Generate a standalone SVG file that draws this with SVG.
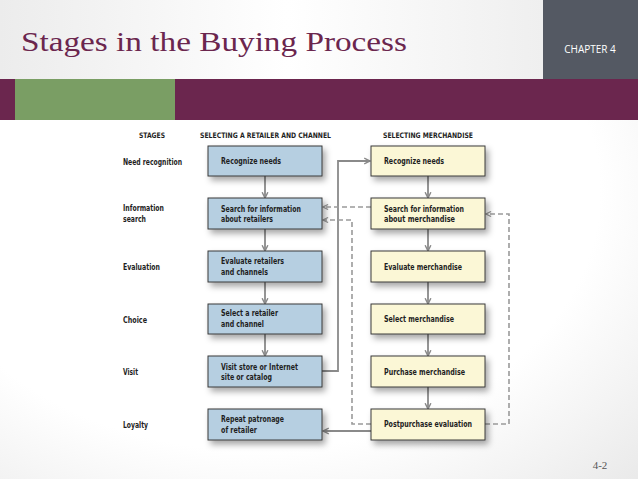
<svg xmlns="http://www.w3.org/2000/svg" width="638" height="479" viewBox="0 0 638 479">
<defs>
<linearGradient id="hdr" x1="0" y1="0" x2="1" y2="0">
<stop offset="0" stop-color="#ececec"/>
<stop offset="0.45" stop-color="#ffffff"/>
<stop offset="1" stop-color="#e9e9e9"/>
</linearGradient>
<radialGradient id="bg" cx="0.4" cy="0.4" r="0.9">
<stop offset="0.6" stop-color="#ffffff"/>
<stop offset="1" stop-color="#e6e6e6"/>
</radialGradient>
<filter id="sh" x="-20%" y="-30%" width="150%" height="180%">
<feDropShadow dx="3" dy="4" stdDeviation="3" flood-color="#000" flood-opacity="0.35"/>
</filter>
<marker id="ah" viewBox="0 0 10 10" refX="9" refY="5" markerWidth="4" markerHeight="4" orient="auto" markerUnits="strokeWidth">
<path d="M1,1 L9,5 L1,9" fill="none" stroke="#8a8a8a" stroke-width="2"/>
</marker>
<marker id="ahd" viewBox="0 0 10 10" refX="9" refY="5" markerWidth="4" markerHeight="4" orient="auto" markerUnits="strokeWidth">
<path d="M1,1 L9,5 L1,9" fill="none" stroke="#9a9a9a" stroke-width="2"/>
</marker>
</defs>
<style>
.bl{fill:#b6cfe1;stroke:#3a3a3a;stroke-width:1;filter:url(#sh)}
.yl{fill:#fbf7d6;stroke:#3a3a3a;stroke-width:1;filter:url(#sh)}
.t{font-family:"DejaVu Sans Condensed","DejaVu Sans",sans-serif;font-weight:bold;font-size:8.5px;fill:#1e1e1e}
.h{font-family:"DejaVu Sans Condensed","DejaVu Sans",sans-serif;font-weight:bold;font-size:7.5px;fill:#1e1e1e}
.ar{fill:none;stroke:#8a8a8a;stroke-width:1.8;marker-end:url(#ah)}
.da{fill:none;stroke:#9a9a9a;stroke-width:1.6;stroke-dasharray:5,3;marker-end:url(#ahd)}
</style>
<rect x="0" y="0" width="638" height="479" fill="url(#bg)"/>
<rect x="0" y="0" width="638" height="79" fill="url(#hdr)"/>
<rect x="543" y="0" width="95" height="79" fill="#545963"/>
<rect x="0" y="79" width="638" height="41" fill="#6b264e"/>
<rect x="15" y="79" width="160" height="41" fill="#7a9e64"/>
<text x="21" y="51" font-family="Liberation Serif, serif" font-size="28" fill="#6b264e" textLength="386" lengthAdjust="spacingAndGlyphs">Stages in the Buying Process</text>
<text x="590" y="53" text-anchor="middle" font-family="Open Sans, Liberation Sans, sans-serif" font-size="10" fill="#ffffff">CHAPTER 4</text>
<text x="600" y="469" text-anchor="middle" font-family="Liberation Serif, serif" font-size="11" fill="#555">4-2</text>

<g id="headers">
<text class="h" x="139" y="138" textLength="26" lengthAdjust="spacingAndGlyphs">STAGES</text>
<text class="h" x="200" y="138" textLength="131" lengthAdjust="spacingAndGlyphs">SELECTING A RETAILER AND CHANNEL</text>
<text class="h" x="383" y="138" textLength="90" lengthAdjust="spacingAndGlyphs">SELECTING MERCHANDISE</text>
</g>
<g id="stages">
<text class="t" x="123" y="165" textLength="59" lengthAdjust="spacingAndGlyphs">Need recognition</text>
<text class="t" x="123" y="211" textLength="41" lengthAdjust="spacingAndGlyphs">Information</text>
<text class="t" x="123" y="221.5" textLength="23" lengthAdjust="spacingAndGlyphs">search</text>
<text class="t" x="123" y="269.5" textLength="37" lengthAdjust="spacingAndGlyphs">Evaluation</text>
<text class="t" x="123" y="323" textLength="24" lengthAdjust="spacingAndGlyphs">Choice</text>
<text class="t" x="123" y="374.5" textLength="15" lengthAdjust="spacingAndGlyphs">Visit</text>
<text class="t" x="123" y="428" textLength="25" lengthAdjust="spacingAndGlyphs">Loyalty</text>
</g>

<g id="connectors">
<line class="ar" x1="265" y1="176" x2="265" y2="198"/>
<line class="ar" x1="265" y1="229" x2="265" y2="251"/>
<line class="ar" x1="265" y1="282" x2="265" y2="304"/>
<line class="ar" x1="265" y1="334" x2="265" y2="356"/>
<line class="ar" x1="428" y1="176" x2="428" y2="198"/>
<line class="ar" x1="428" y1="229" x2="428" y2="251"/>
<line class="ar" x1="428" y1="282" x2="428" y2="304"/>
<line class="ar" x1="428" y1="334" x2="428" y2="356"/>
<line class="ar" x1="428" y1="387" x2="428" y2="409"/>
<polyline class="ar" points="322,371 338,371 338,161 370,161"/>
<line class="ar" x1="371" y1="431" x2="323" y2="431"/>
<line class="da" x1="371" y1="207" x2="323" y2="207"/>
<polyline class="da" points="371,424 352,424 352,220 323,220"/>
<polyline class="da" points="485,424 509,424 509,214 486,214"/>
</g>

<g id="n-recognize-r"><rect class="bl" x="208" y="146" width="114" height="30"/><text class="t" x="221" y="164" textLength="60" lengthAdjust="spacingAndGlyphs">Recognize needs</text></g>
<g id="n-search-r"><rect class="bl" x="208" y="198" width="114" height="31"/><text class="t" x="221" y="212" textLength="80" lengthAdjust="spacingAndGlyphs">Search for information</text><text class="t" x="221" y="222" textLength="52" lengthAdjust="spacingAndGlyphs">about retailers</text></g>
<g id="n-evaluate-r"><rect class="bl" x="208" y="251" width="114" height="31"/><text class="t" x="221" y="264" textLength="63" lengthAdjust="spacingAndGlyphs">Evaluate retailers</text><text class="t" x="221" y="275" textLength="47" lengthAdjust="spacingAndGlyphs">and channels</text></g>
<g id="n-select-r"><rect class="bl" x="208" y="304" width="114" height="30"/><text class="t" x="221" y="316" textLength="57" lengthAdjust="spacingAndGlyphs">Select a retailer</text><text class="t" x="221" y="327" textLength="43" lengthAdjust="spacingAndGlyphs">and channel</text></g>
<g id="n-visit-r"><rect class="bl" x="208" y="356" width="114" height="31"/><text class="t" x="221" y="369.5" textLength="77" lengthAdjust="spacingAndGlyphs">Visit store or Internet</text><text class="t" x="221" y="379.5" textLength="51" lengthAdjust="spacingAndGlyphs">site or catalog</text></g>
<g id="n-repeat-r"><rect class="bl" x="208" y="409" width="114" height="31"/><text class="t" x="221" y="422" textLength="63" lengthAdjust="spacingAndGlyphs">Repeat patronage</text><text class="t" x="221" y="432.5" textLength="36" lengthAdjust="spacingAndGlyphs">of retailer</text></g>

<g id="n-recognize-m"><rect class="yl" x="371" y="146" width="114" height="30"/><text class="t" x="384" y="164" textLength="60" lengthAdjust="spacingAndGlyphs">Recognize needs</text></g>
<g id="n-search-m"><rect class="yl" x="371" y="198" width="114" height="31"/><text class="t" x="384" y="212" textLength="80" lengthAdjust="spacingAndGlyphs">Search for information</text><text class="t" x="384" y="222" textLength="71" lengthAdjust="spacingAndGlyphs">about merchandise</text></g>
<g id="n-evaluate-m"><rect class="yl" x="371" y="251" width="114" height="31"/><text class="t" x="384" y="269.5" textLength="78" lengthAdjust="spacingAndGlyphs">Evaluate merchandise</text></g>
<g id="n-select-m"><rect class="yl" x="371" y="304" width="114" height="30"/><text class="t" x="384" y="322" textLength="70" lengthAdjust="spacingAndGlyphs">Select merchandise</text></g>
<g id="n-purchase-m"><rect class="yl" x="371" y="356" width="114" height="31"/><text class="t" x="384" y="374.5" textLength="81" lengthAdjust="spacingAndGlyphs">Purchase merchandise</text></g>
<g id="n-postpurchase-m"><rect class="yl" x="371" y="409" width="114" height="31"/><text class="t" x="384" y="427" textLength="88" lengthAdjust="spacingAndGlyphs">Postpurchase evaluation</text></g>
</svg>
